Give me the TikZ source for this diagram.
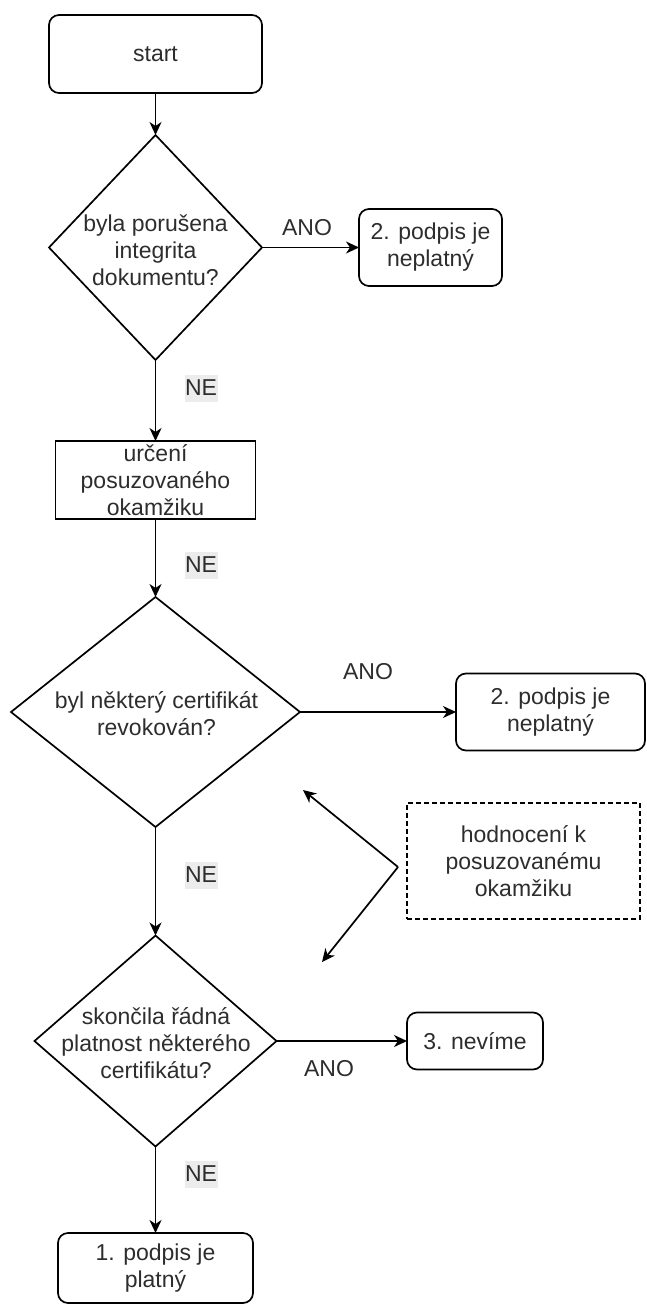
\documentclass[tikz,border=0pt]{standalone}
\usepackage{fontspec}
\setmainfont{Liberation Sans}
\usetikzlibrary{arrows.meta,shapes.geometric}
\definecolor{txtc}{RGB}{45,45,45}
\definecolor{lblbg}{RGB}{236,236,236}
\begin{document}
\begin{tikzpicture}[x=1pt,y=-1pt,
  every node/.style={font=\fontsize{23}{27}\selectfont, text=txtc},
  box/.style={draw, line width=1.7pt, rounded corners=10pt, align=center, inner sep=0pt, outer sep=0pt},
  rectbox/.style={draw, line width=1.7pt, align=center, inner sep=0pt, outer sep=0pt},
  notebox/.style={draw, line width=1.7pt, dash pattern=on 5pt off 3pt, align=center, inner sep=0pt, outer sep=0pt},
  dia/.style={draw, diamond, line width=1.7pt, inner sep=0pt, outer sep=0pt},
  txt/.style={align=center, inner sep=0pt},
  lbl/.style={inner sep=0pt},
  nelbl/.style={fill=lblbg, minimum width=33pt, minimum height=27pt, inner sep=0pt},
  arr/.style={line width=1.7pt, -{Stealth[length=13pt,width=12pt,inset=4pt]}}]
\useasboundingbox (0,0) rectangle (646,1306);

% main column
\node[box, minimum width=213pt, minimum height=78pt] (start) at (155.5,54) {start};
\node[dia, minimum width=213pt, minimum height=225pt] (d1) at (155.5,247.5) {};
\node[txt] (d1t) at (155.5,250) {byla porušena\\integrita\\dokumentu?};
\node[box, minimum width=143pt, minimum height=77pt] (b2) at (430.5,247.5) {2. podpis je\\neplatný};
\node[rectbox, minimum width=200pt, minimum height=78pt] (r1) at (155.5,480) {určení\\posuzovaného\\okamžiku};
\node[dia, minimum width=289pt, minimum height=230pt] (d2) at (155.5,712) {};
\node[txt] (d2t) at (156.5,713.5) {byl některý certifikát\\revokován?};
\node[box, minimum width=189pt, minimum height=77pt] (b3) at (550.5,712) {2. podpis je\\neplatný};
\node[notebox, minimum width=233pt, minimum height=116pt] (note) at (523.5,861) {hodnocení k\\posuzovanému\\okamžiku};
\node[dia, minimum width=242pt, minimum height=211pt] (d3) at (155.5,1041) {};
\node[txt] (d3t) at (156,1043) {skončila řádná\\platnost některého\\certifikátu?};
\node[box, minimum width=136pt, minimum height=57pt] (b4) at (475,1041) {3. nevíme};
\node[box, minimum width=195pt, minimum height=70pt] (b5) at (155.5,1268) {1. podpis je\\platný};

% connectors
\draw[arr] (start.south) -- (d1.north);
\draw[arr] (d1.east) -- (b2.west);
\draw[arr] (d1.south) -- (r1.north);
\draw[arr] (r1.south) -- (d2.north);
\draw[arr] (d2.east) -- (b3.west);
\draw[arr] (d2.south) -- (d3.north);
\draw[arr] (d3.east) -- (b4.west);
\draw[arr] (d3.south) -- (b5.north);

% note arrows
\coordinate (fork) at (398,867);
\coordinate (up) at (303,790);
\coordinate (dn) at (322,962);
\draw[arr] (fork) -- (up);
\draw[arr] (fork) -- (dn);

% labels
\node[lbl] (ano1) at (307,228) {ANO};
\node[nelbl] (ne1) at (201,388) {NE};
\node[nelbl] (ne2) at (201,565) {NE};
\node[lbl] (ano2) at (368,672) {ANO};
\node[nelbl] (ne3) at (201,875) {NE};
\node[lbl] (ano3) at (329,1069) {ANO};
\node[nelbl] (ne4) at (201,1174) {NE};
\end{tikzpicture}
\end{document}
